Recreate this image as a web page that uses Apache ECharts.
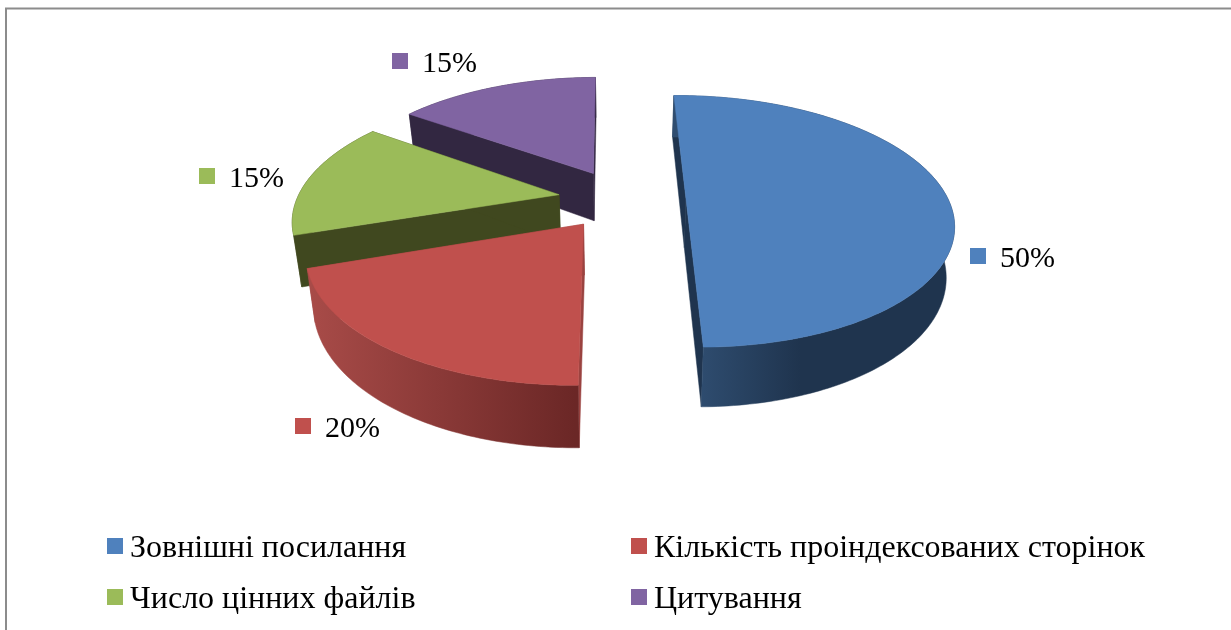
<!DOCTYPE html>
<html><head><meta charset="utf-8">
<style>html,body{margin:0;padding:0;background:#fff}#c{width:1231px;height:630px}</style>
<script src="https://cdn.jsdelivr.net/npm/echarts@6/dist/echarts.min.js"></script>
</head><body><div id="c"></div>
<script>
const categories = ['Зовнішні посилання','Кількість проіндексованих сторінок','Число цінних файлів','Цитування'];
const values = [50,20,15,15];
const labels = ['50%','20%','15%','15%'];
const topColors = ['#4F81BD','#C0504D','#9BBB59','#8064A2'];
const wallFrom = ['#2F4D70','#A84B48','#40481F','#322741'];
const wallTo = ['#1F344E','#6B2726','#40481F','#322741'];
const wallRange = [[697,800],[310,575],[290,560],[400,600]];
const cutColors = ['#1F344E','#9A4340','#40481F','#322741'];
const labelAnchors = [[970,248],[295,418],[199,168],[392,53]];
const drawOrder = [3,2,1,0];

// projection of the pie plane
const P = {cx:622,cy:199,R:262,tilt:0.465,persp:0.18,explode:64,start:-90.6,depth:49,vx:620,k:0.975};
const total = values.reduce((a,b)=>a+b,0);
const spans = values.map(v=>v/total*360);
function proj(X,Y,bottom){
  const s = 1/(1-P.persp*Y/P.R);
  let x = P.cx+X*s, y = P.cy+Y*P.tilt*s;
  if(bottom){ x = P.vx+(x-P.vx)*P.k; y += P.depth*s; }
  return [x,y];
}
function render(idx){
  return function(params,api){
    const a0 = P.start+spans.slice(0,idx).reduce((a,b)=>a+b,0);
    const a1 = a0+api.value(0)/total*360;
    const mid = (a0+a1)/2*Math.PI/180;
    const ox = Math.cos(mid)*P.explode, oy = Math.sin(mid)*P.explode;
    const arc = [];
    for(let a=a0;a<=a1+1e-6;a+=1){
      const t=a*Math.PI/180;
      arc.push([ox+P.R*Math.cos(t),oy+P.R*Math.sin(t)]);
    }
    const top = arc.map(p=>proj(p[0],p[1],false));
    const bot = arc.map(p=>proj(p[0],p[1],true));
    const aT = proj(ox,oy,false), aB = proj(ox,oy,true);
    const poly = (pts,fill)=>({type:'polygon',shape:{points:pts},style:{fill:fill,stroke:fill,lineWidth:0.5}});
    const wr = wallRange[idx];
    const grad = new echarts.graphic.LinearGradient(wr[0],0,wr[1],0,[{offset:0,color:wallFrom[idx]},{offset:1,color:wallTo[idx]}],true);
    const lab = labelAnchors[idx];
    return {type:'group',children:[
      poly([aT,top[0],bot[0],aB],cutColors[idx]),
      poly([aT,top[top.length-1],bot[bot.length-1],aB],cutColors[idx]),
      poly(top.concat(bot.slice().reverse()),grad),
      poly([aT].concat(top),topColors[idx]),
      {type:'rect',shape:{x:lab[0],y:lab[1],width:16,height:16},style:{fill:topColors[idx]}},
      {type:'text',x:lab[0]+30,y:lab[1]+11,style:{text:labels[idx],fill:'#000',font:'30px "Liberation Serif"',verticalAlign:'middle'}}
    ]};
  };
}
const series = drawOrder.map(i=>({
  type:'custom',name:categories[i],coordinateSystem:'none',z:2,
  itemStyle:{color:topColors[i]},data:[[values[i]]],renderItem:render(i),silent:true,animation:false
}));
const legendBase = {orient:'vertical',selectedMode:false,icon:'rect',itemWidth:16,itemHeight:16,itemGap:19,
  formatter:name=>'{a|'+name+'}',
  textStyle:{rich:{a:{fontFamily:'Liberation Serif',fontSize:32,color:'#000',padding:[6,0,0,2]}}}};
const chart = echarts.init(document.getElementById('c'),null,{renderer:'canvas'});
chart.setOption({
  animation:false,backgroundColor:'#fff',
  legend:[
    Object.assign({},legendBase,{left:102,top:528,data:[categories[0],categories[2]]}),
    Object.assign({},legendBase,{left:626,top:528,data:[categories[1],categories[3]]})
  ],
  graphic:[{type:'polyline',z:1,shape:{points:[[6,630],[6,8.5],[1231,8.5]]},style:{stroke:'#8c8c8c',lineWidth:2,fill:null}}],
  series:series
});
</script></body></html>
